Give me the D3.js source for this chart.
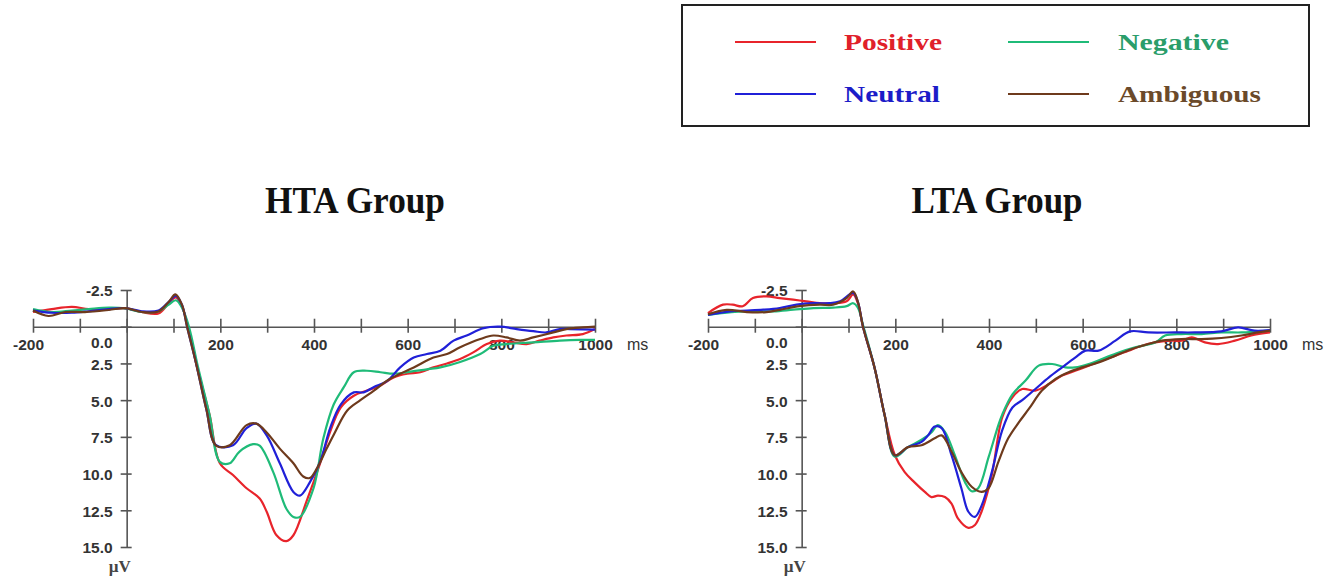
<!DOCTYPE html>
<html>
<head>
<meta charset="utf-8">
<script src="https://cdn.jsdelivr.net/npm/d3@7"></script>
<style>
  body { margin: 0; background: #fff; }
  svg { display: block; }
</style>
</head>
<body>
<div id="chart"></div>
<script>
// ERP waveforms, [ms, µV] (positive values drawn downwards)
const htaPositive = [[-200,-1.0],[-160,-1.2],[-117,-1.35],[-81,-1.2],[-38,-1.2],[-3,-1.25],[32,-1.0],[68,-0.9],[90,-1.6],[105,-2.0],[118,-1.4],[131,0],[150,2.7],[177,6.0],[199,9.3],[227,10.1],[256,11.0],[284,11.7],[299,12.6],[320,14.2],[341,14.6],[356,14.2],[384,11.9],[413,9.3],[434,7.2],[457,5.5],[485,4.7],[513,4.35],[542,4.0],[570,3.45],[599,3.2],[627,3.1],[655,2.77],[684,2.5],[712,2.2],[740,1.75],[769,1.18],[797,0.95],[826,1.07],[854,1.18],[882,0.95],[911,0.73],[939,0.6],[974,0.5],[1000,0.16]]
const htaNegative = [[-200,-1.2],[-160,-1.0],[-117,-1.1],[-81,-1.2],[-38,-1.3],[-3,-1.25],[32,-1.0],[68,-1.05],[90,-1.5],[105,-1.8],[118,-1.3],[133,0],[152,2.7],[177,6.0],[199,9.2],[220,9.3],[241,8.5],[270,8.0],[284,8.1],[313,9.9],[341,12.4],[356,12.95],[370,12.95],[399,11.0],[420,7.6],[442,5.3],[464,4.1],[485,3.1],[513,3.0],[542,3.1],[570,3.2],[599,3.1],[641,2.9],[670,2.77],[712,2.4],[755,1.86],[783,1.3],[811,1.18],[868,1.07],[925,0.95],[967,0.9],[1000,0.9]]
const htaNeutral = [[-200,-1.1],[-160,-0.95],[-117,-0.95],[-81,-1.05],[-38,-1.2],[-3,-1.27],[32,-1.05],[68,-1.1],[90,-1.7],[105,-2.1],[118,-1.5],[129,0],[149,2.6],[170,5.6],[191,8.07],[227,8.07],[256,6.9],[277,6.6],[299,7.4],[327,9.3],[356,11.25],[370,11.5],[391,10.6],[413,9.2],[435,6.85],[457,5.3],[485,4.47],[506,4.47],[528,4.1],[556,3.7],[584,2.77],[613,2.1],[641,1.86],[670,1.63],[698,0.95],[726,0.6],[762,0.1],[797,0],[833,0.16],[868,0.3],[896,0.39],[925,0.16],[946,0.16],[1000,0.2]]
const htaAmbiguous = [[-200,-1.1],[-167,-0.73],[-131,-1.0],[-89,-1.0],[-38,-1.14],[-3,-1.27],[32,-1.0],[68,-1.04],[90,-1.7],[104,-2.2],[118,-1.5],[129,0],[149,2.6],[170,5.6],[191,8.1],[220,8.07],[256,6.7],[277,6.6],[299,7.2],[327,8.3],[356,9.3],[377,10.2],[391,10.3],[406,9.66],[427,8.3],[443,7.3],[471,5.7],[499,5.0],[528,4.35],[556,3.67],[584,3.2],[613,2.77],[655,2.1],[684,1.86],[712,1.4],[755,0.84],[783,0.6],[811,0.73],[840,0.95],[868,0.73],[911,0.39],[939,0.16],[974,0.05],[1000,0]]

const ltaPositive = [[-200,-0.93],[-168,-1.5],[-147,-1.5],[-126,-1.39],[-104,-1.95],[-75,-2.07],[-47,-1.95],[-18,-1.84],[10,-1.73],[39,-1.6],[67,-1.6],[96,-1.73],[110,-2.2],[120,-1.6],[131,0],[156,2.84],[177,6.0],[199,8.75],[220,9.9],[241,10.6],[263,11.25],[277,11.6],[291,11.5],[306,11.6],[320,12.05],[334,13.07],[356,13.7],[370,13.5],[384,12.6],[406,10.1],[428,6.2],[450,4.8],[471,4.24],[499,4.35],[528,3.9],[556,3.33],[584,3.0],[613,2.65],[641,2.3],[670,1.97],[698,1.63],[726,1.3],[755,1.07],[783,0.95],[811,0.95],[833,0.73],[861,1.07],[889,1.18],[925,0.95],[960,0.6],[1000,0.39]]
const ltaNegative = [[-200,-0.8],[-150,-1.0],[-104,-1.05],[-60,-1.05],[-18,-1.16],[25,-1.27],[67,-1.3],[96,-1.4],[110,-1.6],[120,-1.3],[132,0],[156,2.84],[177,6.0],[199,8.85],[227,8.2],[256,7.7],[277,7.2],[291,6.7],[306,7.16],[327,8.75],[349,10.6],[363,11.2],[377,11.0],[399,8.9],[420,6.7],[428,6.0],[450,4.6],[478,3.67],[506,2.65],[535,2.54],[563,2.77],[584,2.77],[613,2.54],[641,2.2],[677,1.75],[712,1.4],[755,1.07],[776,0.6],[811,0.5],[854,0.5],[896,0.39],[939,0.39],[974,0.32],[1000,0.27]]
const ltaNeutral = [[-200,-0.8],[-153,-1.05],[-117,-1.1],[-82,-1.16],[-47,-1.27],[-11,-1.5],[25,-1.6],[60,-1.6],[82,-1.73],[110,-2.3],[120,-1.7],[131,0],[156,2.84],[177,6.0],[199,8.75],[227,8.2],[256,7.84],[270,7.4],[284,6.8],[299,6.9],[320,8.75],[341,11.0],[356,12.6],[370,12.95],[384,12.2],[406,9.9],[428,7.07],[450,5.5],[471,5.0],[499,4.24],[528,3.45],[556,2.77],[584,2.1],[606,1.63],[634,1.63],[670,0.95],[701,0.32],[740,0.39],[797,0.39],[840,0.39],[896,0.32],[932,0.05],[967,0.27],[1000,0.23]]
const ltaAmbiguous = [[-200,-0.85],[-160,-1.15],[-117,-1.0],[-75,-1.0],[-47,-1.15],[-4,-1.4],[39,-1.5],[67,-1.5],[96,-1.95],[110,-2.4],[120,-1.7],[131,0],[156,2.84],[177,6.0],[199,8.75],[227,8.2],[256,8.07],[284,7.6],[299,7.4],[320,8.5],[341,9.9],[363,10.9],[384,11.25],[399,11.0],[420,9.2],[441,7.6],[464,6.5],[485,5.6],[513,4.35],[542,3.56],[570,3.1],[599,2.77],[634,2.43],[670,1.97],[705,1.52],[740,1.18],[769,0.95],[811,0.84],[854,0.84],[896,0.77],[939,0.6],[974,0.39],[1000,0.27]]

const conditions = ["Positive", "Negative", "Neutral", "Ambiguous"]
const lineColors = ["#e8242b", "#1fbb78", "#2020d8", "#6e3a1c"]
const textColors = ["#e0202a", "#2a9d6a", "#1c1cc8", "#6b4a2a"]
const xTicks = [-200, -100, 0, 100, 200, 300, 400, 500, 600, 700, 800, 900, 1000]
const xLabels = [-200, 200, 400, 600, 800, 1000]
const yTicks = [-2.5, 0, 2.5, 5, 7.5, 10, 12.5, 15]

const panels = [
  { title: "HTA Group", left: 33, titleX: 355, titleLen: 180,
    series: [htaPositive, htaNegative, htaNeutral, htaAmbiguous] },
  { title: "LTA Group", left: 708, titleX: 997, titleLen: 171,
    series: [ltaPositive, ltaNegative, ltaNeutral, ltaAmbiguous] },
]

const width = 1344
const height = 582
const svg = d3.select("#chart").append("svg")
  .attr("width", width)
  .attr("height", height)

// legend
const legend = svg.append("g")
legend.append("rect")
  .attr("x", 682).attr("y", 5)
  .attr("width", 627).attr("height", 121)
  .attr("fill", "none").attr("stroke", "#222").attr("stroke-width", 2)

const legendPos = [
  { lx: 735, tx: 844, y: 42, len: 98 },
  { lx: 1008, tx: 1118, y: 42, len: 111 },
  { lx: 735, tx: 844, y: 94, len: 96 },
  { lx: 1008, tx: 1118, y: 94, len: 143 },
]
conditions.forEach((c, i) => {
  const p = legendPos[i]
  legend.append("line")
    .attr("x1", p.lx).attr("x2", p.lx + 81)
    .attr("y1", p.y).attr("y2", p.y)
    .attr("stroke", lineColors[i]).attr("stroke-width", 2)
  legend.append("text")
    .attr("x", p.tx).attr("y", p.y + 8)
    .attr("font-family", "'Liberation Serif', 'Times New Roman', serif")
    .attr("font-weight", "bold")
    .attr("font-size", 24)
    .attr("textLength", p.len)
    .attr("lengthAdjust", "spacingAndGlyphs")
    .attr("fill", textColors[i])
    .text(c)
})

const y = d3.scaleLinear().domain([-2.5, 15]).range([290, 547])

panels.forEach(panel => {
  const x = d3.scaleLinear().domain([-200, 1000]).range([panel.left, panel.left + 562])
  const g = svg.append("g")

  g.append("text")
    .attr("x", panel.titleX).attr("y", 213)
    .attr("text-anchor", "middle")
    .attr("font-family", "'Liberation Serif', 'Times New Roman', serif")
    .attr("font-weight", "bold")
    .attr("font-size", 37)
    .attr("textLength", panel.titleLen)
    .attr("lengthAdjust", "spacingAndGlyphs")
    .attr("fill", "#111")
    .text(panel.title)

  // x axis
  const xAxis = d3.axisBottom(x)
    .tickValues(xTicks)
    .tickSizeOuter(0)
    .tickFormat(d => xLabels.includes(d) ? d : "")
  const gx = g.append("g")
    .attr("transform", `translate(0,${y(0)})`)
    .call(xAxis)
  gx.select(".domain").attr("stroke", "#555").attr("stroke-width", 1.6)
  gx.selectAll(".tick line").attr("y1", -8).attr("y2", 6)
    .attr("stroke", "#555").attr("stroke-width", 1.6)
  gx.selectAll(".tick text")
    .attr("y", 12)
    .attr("dx", d => d < 0 ? "-5" : "0")
    .attr("font-family", "'Liberation Sans', Arial, sans-serif")
    .attr("font-weight", "bold")
    .attr("font-size", 15.5)
    .attr("fill", "#333")
  g.append("text")
    .attr("x", x(1000) + 32).attr("y", y(0) + 23)
    .attr("font-family", "'Liberation Sans', Arial, sans-serif")
    .attr("font-size", 16)
    .attr("fill", "#333")
    .text("ms")

  // y axis
  const yAxis = d3.axisLeft(y)
    .tickValues(yTicks)
    .tickSizeOuter(0)
    .tickFormat(d => d.toFixed(1))
  const gy = g.append("g")
    .attr("transform", `translate(${x(0)},0)`)
    .call(yAxis)
  gy.select(".domain").attr("stroke", "#555").attr("stroke-width", 1.6)
  gy.selectAll(".tick line").attr("x1", -6).attr("x2", 5)
    .attr("stroke", "#555").attr("stroke-width", 1.6)
  gy.selectAll(".tick text")
    .attr("x", -14)
    .attr("dy", d => d === 0 ? "1.35em" : "0.38em")
    .attr("font-family", "'Liberation Sans', Arial, sans-serif")
    .attr("font-weight", "bold")
    .attr("font-size", 15.5)
    .attr("fill", "#333")
  g.append("text")
    .attr("x", x(0) - 7).attr("y", y(15) + 25)
    .attr("text-anchor", "middle")
    .attr("font-family", "'Liberation Serif', 'Times New Roman', serif")
    .attr("font-weight", "bold")
    .attr("font-size", 17)
    .attr("fill", "#444")
    .text("µV")

  // waveforms
  const line = d3.line()
    .x(d => x(d[0]))
    .y(d => y(d[1]))
    .curve(d3.curveCatmullRom.alpha(0.5))
  panel.series.forEach((s, i) => {
    g.append("path")
      .datum(s)
      .attr("d", line)
      .attr("fill", "none")
      .attr("stroke", lineColors[i])
      .attr("stroke-width", 2.2)
      .attr("stroke-linejoin", "round")
  })
})
</script>
</body>
</html>
